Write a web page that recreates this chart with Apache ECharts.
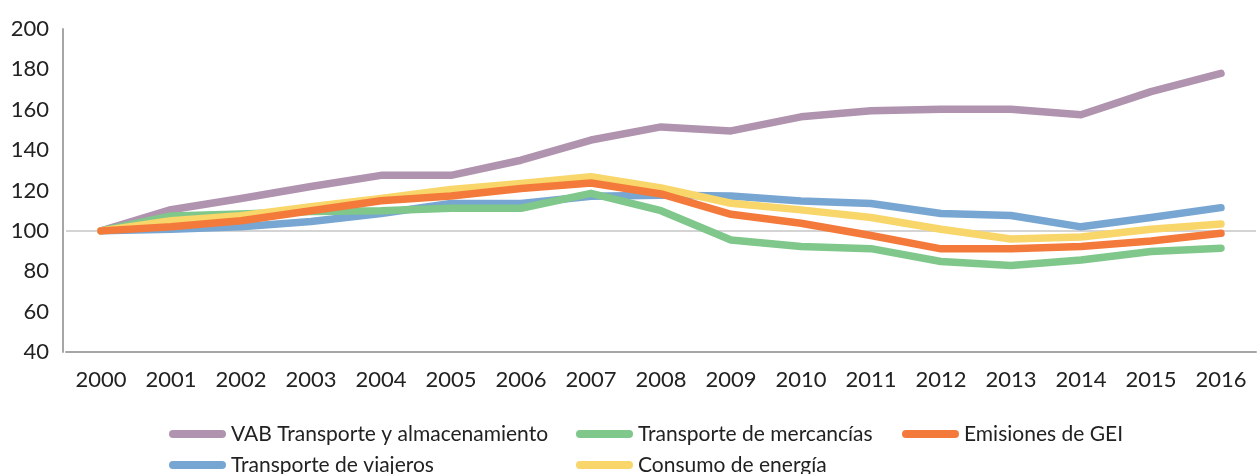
<!DOCTYPE html>
<html>
<head>
<meta charset="utf-8">
<script src="https://cdn.jsdelivr.net/npm/echarts@6/dist/echarts.min.js"></script>
<style>
  html, body { margin: 0; padding: 0; background: #fff; }
  #chart { width: 1258px; height: 474px; }
</style>
</head>
<body>
<div id="chart"></div>
<script>
// ── DATA ───────────────────────────────────────────
const years = ['2000', '2001', '2002', '2003', '2004', '2005', '2006', '2007', '2008',
  '2009', '2010', '2011', '2012', '2013', '2014', '2015', '2016'];

const vab       = [100, 110.5, 116, 122, 127.5, 127.5, 135, 145, 151.5, 149.5, 156.5, 159.5, 160.2, 160.2, 157.5, 169, 178];
const mercancias = [100, 107.4, 108.3, 109.6, 110, 111.2, 111.2, 118.6, 110, 95.5, 92.3, 91.2, 84.8, 82.8, 85.6, 89.8, 91.4];
const viajeros  = [100, 100.8, 102, 104.6, 108.6, 113.6, 113.6, 117.2, 117.6, 117.3, 114.8, 113.6, 108.6, 107.6, 102, 106.6, 111.5];
const consumo   = [100, 105, 107.5, 112, 116, 120.5, 123.5, 126.8, 121.3, 113.7, 110.4, 106.6, 100.8, 96, 97, 100.8, 103.4];
const emisiones = [100, 102, 105, 110, 114.9, 117.3, 121, 123.7, 118.3, 108.2, 103.8, 97.7, 91.1, 91.1, 92.3, 95, 98.8];

const names = {
  vab: 'VAB Transporte y almacenamiento',
  merc: 'Transporte de mercancías',
  emis: 'Emisiones de GEI',
  viaj: 'Transporte de viajeros',
  cons: 'Consumo de energía',
};

const colors = {
  vab: '#B093AE',
  merc: '#7FC78A',
  emis: '#F47A3B',
  viaj: '#78A6D2',
  cons: '#F8D66A',
};

// ── CHART ──────────────────────────────────────────
const FONT = 'Lato, "Liberation Sans", sans-serif';
const legendIcon = 'path://M4,0 H53 A4,4 0 0 1 53,8 H4 A4,4 0 0 1 4,0 Z';

function legendAt(name, left, top) {
  return {
    data: [name], left, top, orient: 'horizontal', padding: 0,
    icon: legendIcon, itemWidth: 57, itemHeight: 8,
    textStyle: { fontFamily: FONT, fontSize: 21, color: '#222', lineHeight: 24 },
    selectedMode: false,
  };
}

function line(key, data) {
  return {
    name: names[key], type: 'line', data,
    symbol: 'none', smooth: false,
    lineStyle: { width: 7.5, color: colors[key], cap: 'round', join: 'round' },
    itemStyle: { color: colors[key] },
  };
}

// split lines: only the one at 100 is visible
const gridColors = ['transparent', 'transparent', 'transparent', '#D4D4D4',
  'transparent', 'transparent', 'transparent', 'transparent', 'transparent'];

const chart = echarts.init(document.getElementById('chart'), null, { renderer: 'canvas' });
chart.setOption({
  animation: false,
  backgroundColor: '#fff',
  grid: { left: 66, right: 2, top: 29, bottom: 122, containLabel: false },
  xAxis: {
    type: 'category', data: years, boundaryGap: true,
    axisLine: { lineStyle: { color: '#A6A6A6', width: 2 } },
    axisTick: { show: false },
    axisLabel: { fontFamily: FONT, fontSize: 22, color: '#222', margin: 17 },
  },
  yAxis: {
    type: 'value', min: 40, max: 200, interval: 20, offset: 3,
    axisLine: { show: true, lineStyle: { color: '#A6A6A6', width: 2 } },
    axisTick: { show: false },
    axisLabel: { fontFamily: FONT, fontSize: 22, color: '#222', margin: 14 },
    splitLine: { show: true, showMinLine: true, showMaxLine: true, lineStyle: { color: gridColors, width: 2 } },
  },
  legend: [
    legendAt(names.vab, 169, 422),
    legendAt(names.merc, 576, 422),
    legendAt(names.emis, 902, 422),
    legendAt(names.viaj, 169, 453),
    legendAt(names.cons, 576, 453),
  ],
  series: [
    line('vab', vab),
    line('viaj', viajeros),
    line('merc', mercancias),
    line('cons', consumo),
    line('emis', emisiones),
  ],
});
</script>
</body>
</html>
